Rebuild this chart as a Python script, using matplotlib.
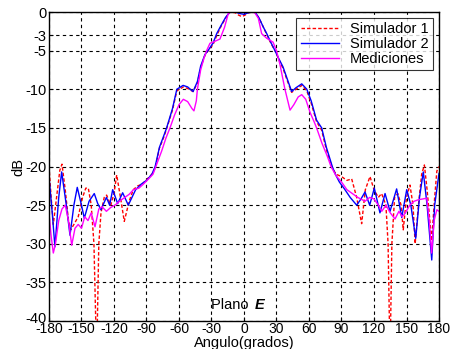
import matplotlib
matplotlib.use("Agg")
import matplotlib.pyplot as plt
from matplotlib.transforms import ScaledTranslation

plt.rcParams['font.family'] = ['Liberation Sans', 'DejaVu Sans']

# Simulador 1 (red dashed)
ang_s1 = [-180, -178, -176, -173, -170, -168, -165, -162, -160, -157, -153, -149, -146, -143.7,
          -141, -138.5, -136, -134, -132, -129, -126.8, -123, -120, -117.5, -114, -110.5, -106,
          -102.2, -98, -94, -90, -85, -82, -78, -74, -71.4, -66, -62, -56, -52, -47, -43, -40,
          -36, -33, -28.5, -25, -21, -17, -13, -8, -5, -2, 1, 4, 8, 10, 14, 18, 21, 25, 28.6, 32,
          36, 40, 44, 48, 53.3, 58, 62, 67, 71.7, 76, 81.5, 85, 90, 95, 99.4, 104, 108.6, 112,
          116.3, 120, 124, 127, 131, 133, 134.8, 136.5, 139, 142, 145, 147, 150, 153.2, 156, 158,
          161, 164, 166.5, 169, 173.2, 176, 178, 180]
db_s1 = [-20, -24, -27.5, -24, -20.5, -19.7, -23, -27, -28.2, -27.5, -26.5, -24, -22.8, -22.8,
         -25, -30, -45, -30, -26, -24, -23.7, -25, -23.5, -21.1, -24, -27.1, -24.5,
         -23, -22.5, -22.3, -21.7, -21, -20.2, -17.6, -16.2, -15.1, -12.7, -10.2, -9.7, -9.9, -10.3, -9.2, -7.2,
         -5.6, -5, -4.2, -3, -1.8, -0.8, 0, -0.1, -0.4, -0.6, -0.4, -0.1, 0, 0, -0.8, -2, -2.9, -4.1, -5, -6.1,
         -7.3, -8.9, -10.4, -10, -9.5, -10.2, -11.8, -14.2, -15.3, -17.8, -20.2, -21, -21.3, -21.8, -21.6, -24, -27.4, -23,
         -21.3, -23, -24, -23.5, -25, -30, -45, -30, -24, -23.5, -25, -28.2, -24, -22.4, -25, -30,
         -25, -21, -19.8, -23, -29.6, -24, -20.6, -20]

# Simulador 2 (blue solid)
ang_s2 = [-180, -177, -174.5, -171, -168.3, -164, -160.6, -157, -153.9, -150, -147.4, -143, -138.2,
          -135, -132, -127, -124, -121.2, -116.6, -112, -106.8, -100, -95, -90, -85, -82, -78, -74,
          -71.4, -66, -62, -56.2, -52, -47, -43, -40, -36, -33.2, -28.5, -25.2, -21, -17, -13, -8,
          -4, 0, 4, 8, 10.2, 14, 18, 21, 25, 28.6, 32, 36, 40, 44, 48, 53.3, 58, 62, 67, 71.7, 76,
          81.5, 84, 88, 93.2, 98, 104, 108, 111.7, 116, 120.3, 125.5, 130.2, 134.8, 140.9, 145.6,
          150.2, 154, 158.5, 162, 165.5, 169, 173.3, 176, 180]
db_s2 = [-21.3, -26, -30.4, -24, -20.7, -25, -28.9, -25, -22.7, -25, -26.7, -24.5, -23.5,
         -24.8, -25.6, -24, -25, -23.0, -24.8, -23.4, -25, -23, -22.3, -21.8, -21, -20, -17.5, -16,
         -15, -12.5, -10, -9.5, -9.7, -10.3, -9, -7, -5.5, -5, -4, -2.8, -1.7, -0.7, 0, 0,
         -0.2, -0.3, -0.1, 0, 0, -0.8, -2, -2.8, -4, -5, -6, -7.1, -8.7, -10.3, -9.8, -9.3, -10, -11.5, -14, -15, -17.5,
         -20, -20.9, -22, -23, -24, -25, -24.2, -23.3, -25, -22.8, -26, -23.5, -25.8, -22.9, -26.6,
         -23, -25, -29.3, -24, -20.7, -25, -32.1, -25, -20.9]

# Mediciones (magenta solid)
ang_m = [-180, -178, -176, -174, -171, -168, -165, -162, -159, -156, -153, -150, -147, -144, -141,
         -137.5, -134, -131, -127, -123, -119, -115, -110, -106, -102, -97, -93, -88, -84, -80, -76,
         -72, -68.3, -64, -60, -56, -52, -48, -46.2, -44, -43, -40, -37, -34.5, -31.4, -27, -22.2,
         -18, -14.5, -12, -6, 0, 6, 10, 13.2, 16.3, 21, 26.8, 30, 33.2, 37.8, 42.5, 46, 50, 53.3,
         57, 61, 65, 67, 72, 77, 80.3, 85, 90, 95, 100, 105, 111.7, 116, 120, 124, 127.2, 131, 135,
         139.4, 143, 146, 149, 153, 157, 161, 165, 168.7, 171, 173.2, 175.5, 178, 180]
db_m = [-26, -29, -31.2, -30, -27, -25.5, -25, -27, -30.2, -28, -27.5, -28, -26.5, -27, -26,
        -27.8, -25.5, -25.2, -25.8, -25.3, -25, -24.5, -24, -23.6, -23, -22.8, -22.3, -21.6, -21, -19.5, -18,
        -16.3, -15, -13.3, -12, -11.3, -11.6, -12.5, -12.8, -11.5, -10, -7.5, -6, -5, -4.05, -3.8, -3.5,
        -2, -0.2, 0, 0, 0, 0, -0.1, -0.8, -2.8, -3.4, -3.9, -5, -6.8, -10, -12.7, -12, -11, -10.7,
        -11.3, -13, -14.3, -15, -17, -18.7, -20, -21.2, -22, -23, -23.5, -24, -24.5, -24, -24.2, -25, -25.8, -25, -26,
        -26.8, -25.8, -26.5, -26, -25, -24.5, -24.3, -24.2, -24.1, -27, -31.2, -27, -25.6, -25.8]

xticks = [-180, -150, -120, -90, -60, -30, 0, 30, 60, 90, 120, 150, 180]
yticks = [0, -3, -5, -10, -15, -20, -25, -30, -35, -40]
labels = ['Simulador 1', 'Simulador 2', 'Mediciones']

fig = plt.figure(figsize=(4.51, 3.49), dpi=100)
ax = fig.add_axes([0.1086, 0.0802, 0.8648, 0.8854])

ax.plot(ang_s1, db_s1, color='#ff0000', lw=1.0, linestyle=(0, (2.5, 1.5)), label=labels[0])
ax.plot(ang_s2, db_s2, color='#0000ff', lw=1.0, label=labels[1])
ax.plot(ang_m, db_m, color='#ff00ff', lw=1.0, label=labels[2])

ax.set_xlim(-180, 180)
ax.set_ylim(-40, 0)
ax.set_xticks(xticks)
ax.set_xticklabels([str(t) for t in xticks])
ax.set_yticks(yticks)
ax.set_yticklabels([str(t) for t in yticks])
ax.tick_params(direction='in', length=3, labelsize=10.5)
ax.tick_params(axis='x', labelsize=10, pad=1)
ax.tick_params(axis='y', pad=2)
ax.grid(True, color='black', linestyle=(0, (3, 3)), linewidth=0.8)
ax.set_axisbelow(True)
for s in ax.spines.values():
    s.set_linewidth(1.0)

# nudge the lowest y tick label up slightly, as in the reference
for tk in ax.yaxis.get_major_ticks():
    if abs(tk.get_loc() - (-40)) < 1e-9:
        lab = tk.label1
        lab.set_transform(lab.get_transform() + ScaledTranslation(0, 2.5 / 72, fig.dpi_scale_trans))

ax.set_xlabel('Angulo(grados)', fontsize=10.5, labelpad=-0.5)
ax.set_ylabel('dB', fontsize=10.5, labelpad=0)

ax.text(8.3, -37.9, 'Plano ', ha='right', va='center', fontsize=10.5)
ax.text(9.5, -37.9, 'E', ha='left', va='center', fontsize=10.5, fontweight='bold', fontstyle='italic')

leg = ax.legend(loc='upper right', fontsize=10.5, frameon=True, fancybox=False,
                borderaxespad=0.4, handlelength=2.6, labelspacing=0.05, borderpad=0.3)
leg.get_frame().set_edgecolor('black')
leg.get_frame().set_linewidth(0.8)

fig.savefig('out.png', dpi=100)
